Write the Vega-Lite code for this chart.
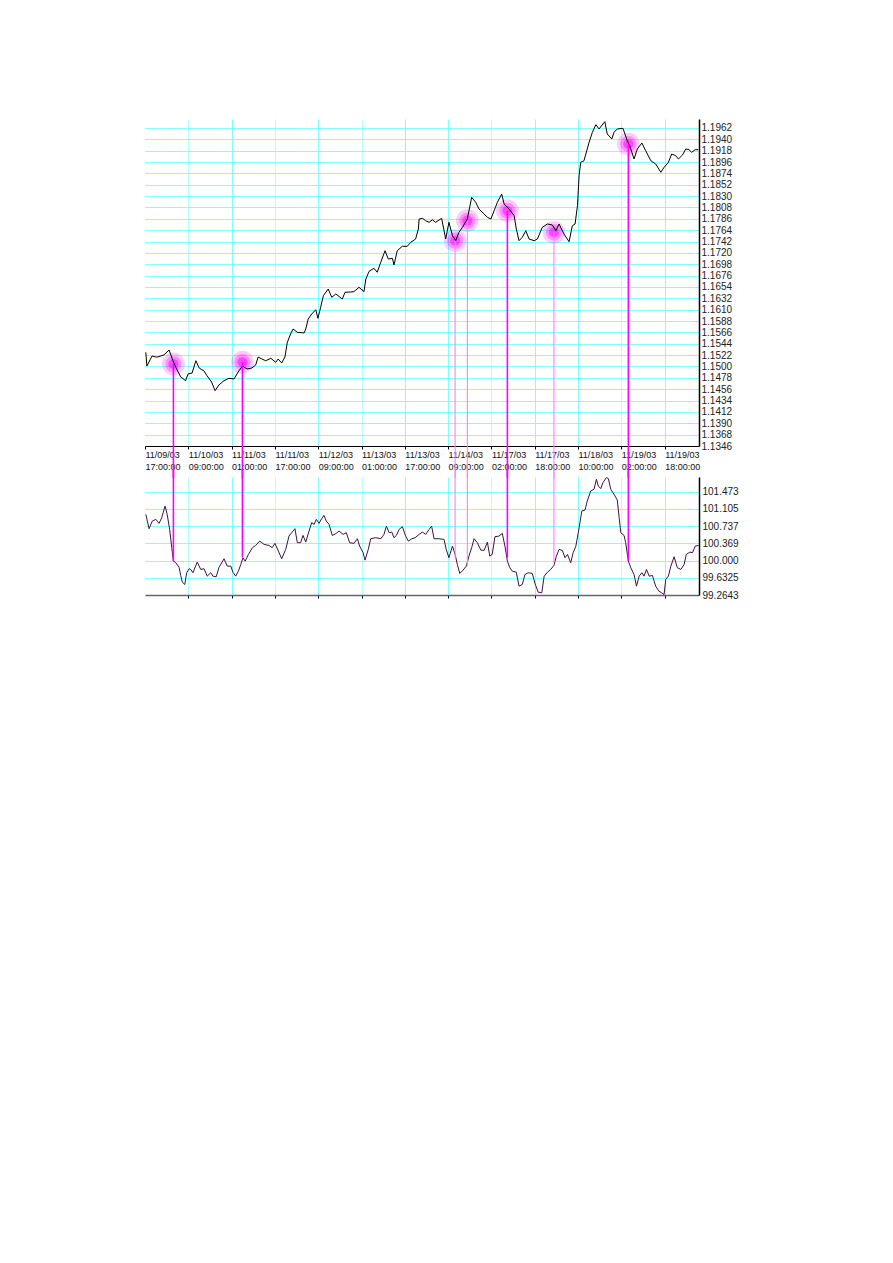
{
  "$schema": "https://vega.github.io/schema/vega-lite/v6.json",
  "background": "white",
  "padding": {"left": 143, "top": 119, "right": 5, "bottom": 5},
  "bounds": "flush",
  "spacing": 31,
  "config": {
    "view": {"stroke": null},
    "axis": {"labelFont": "Liberation Sans", "title": null, "gridColor": "#80ffff", "gridWidth": 1}
  },
  "datasets": {
    "price": [
      {"t":0.3,"v":1.15275},{"t":0.7,"v":1.1501},{"t":2.6,"v":1.15203},{"t":4.4,"v":1.1518},{"t":7.0,"v":1.15223},{"t":8.9,"v":1.1532},{"t":10.1,"v":1.15145},{"t":11.5,"v":1.14971},{"t":13.2,"v":1.14797},{"t":15.0,"v":1.14725},{"t":15.9,"v":1.14855},{"t":17.4,"v":1.14874},{"t":18.8,"v":1.15112},{"t":20.0,"v":1.14971},{"t":21.8,"v":1.14913},{"t":22.9,"v":1.14822},{"t":24.6,"v":1.1470},{"t":25.9,"v":1.14531},{"t":27.3,"v":1.14642},{"t":29.2,"v":1.14725},{"t":31.0,"v":1.14771},{"t":32.9,"v":1.14758},{"t":34.4,"v":1.14893},{"t":36.0,"v":1.1501},{"t":37.7,"v":1.14952},{"t":39.5,"v":1.14971},{"t":40.9,"v":1.15029},{"t":41.8,"v":1.15184},{"t":43.2,"v":1.15145},{"t":44.6,"v":1.15112},{"t":46.5,"v":1.15159},{"t":48.3,"v":1.15081},{"t":49.2,"v":1.15145},{"t":50.5,"v":1.15068},{"t":51.7,"v":1.15184},{"t":52.6,"v":1.15469},{"t":53.8,"v":1.15629},{"t":54.7,"v":1.15726},{"t":56.3,"v":1.15662},{"t":58.8,"v":1.15649},{"t":59.4,"v":1.15726},{"t":60.3,"v":1.1592},{"t":61.6,"v":1.16017},{"t":63.1,"v":1.161},{"t":63.9,"v":1.15933},{"t":64.9,"v":1.16147},{"t":65.9,"v":1.16371},{"t":67.7,"v":1.16501},{"t":69.0,"v":1.1634},{"t":70.5,"v":1.16404},{"t":72.9,"v":1.16307},{"t":73.9,"v":1.16437},{"t":76.0,"v":1.16443},{"t":77.2,"v":1.16449},{"t":79.1,"v":1.16534},{"t":80.9,"v":1.16449},{"t":81.6,"v":1.16695},{"t":82.8,"v":1.16844},{"t":84.6,"v":1.16902},{"t":85.8,"v":1.16825},{"t":87.1,"v":1.17018},{"t":88.7,"v":1.17243},{"t":89.9,"v":1.17082},{"t":91.4,"v":1.17096},{"t":92.0,"v":1.16966},{"t":93.2,"v":1.17243},{"t":95.1,"v":1.17328},{"t":96.9,"v":1.17328},{"t":98.2,"v":1.17406},{"t":100.0,"v":1.1747},{"t":101.0,"v":1.17663},{"t":101.3,"v":1.17857},{"t":102.5,"v":1.17871},{"t":103.7,"v":1.17824},{"t":105.0,"v":1.17793},{"t":106.2,"v":1.17843},{"t":107.4,"v":1.17793},{"t":109.6,"v":1.17871},{"t":111.1,"v":1.1747},{"t":112.3,"v":1.17793},{"t":113.6,"v":1.17534},{"t":114.8,"v":1.17437},{"t":116.0,"v":1.17599},{"t":117.3,"v":1.17696},{"t":119.1,"v":1.17857},{"t":120.7,"v":1.18277},{"t":122.2,"v":1.1818},{"t":123.4,"v":1.18051},{"t":125.3,"v":1.17954},{"t":126.5,"v":1.1789},{"t":127.8,"v":1.17857},{"t":129.0,"v":1.18018},{"t":130.2,"v":1.1818},{"t":131.8,"v":1.18341},{"t":132.7,"v":1.18148},{"t":134.5,"v":1.18051},{"t":136.4,"v":1.17921},{"t":137.2,"v":1.17663},{"t":138.2,"v":1.17437},{"t":139.4,"v":1.17502},{"t":140.7,"v":1.1763},{"t":141.9,"v":1.1747},{"t":143.8,"v":1.17437},{"t":145.0,"v":1.1747},{"t":146.8,"v":1.17696},{"t":148.7,"v":1.1776},{"t":150.5,"v":1.17741},{"t":151.8,"v":1.1763},{"t":153.0,"v":1.1776},{"t":154.8,"v":1.17566},{"t":156.7,"v":1.17417},{"t":157.9,"v":1.17727},{"t":158.9,"v":1.1776},{"t":159.8,"v":1.18115},{"t":160.4,"v":1.18696},{"t":161.0,"v":1.18955},{"t":162.2,"v":1.18986},{"t":164.1,"v":1.19343},{"t":165.3,"v":1.19536},{"t":166.6,"v":1.19684},{"t":167.8,"v":1.196},{"t":168.6,"v":1.19658},{"t":169.9,"v":1.19742},{"t":170.8,"v":1.19503},{"t":172.5,"v":1.19407},{"t":173.3,"v":1.19536},{"t":174.5,"v":1.196},{"t":176.6,"v":1.19614},{"t":178.2,"v":1.19374},{"t":179.1,"v":1.19277},{"t":180.7,"v":1.19019},{"t":181.9,"v":1.19213},{"t":183.6,"v":1.19329},{"t":185.0,"v":1.1918},{"t":186.9,"v":1.18986},{"t":188.7,"v":1.18922},{"t":190.6,"v":1.18762},{"t":191.8,"v":1.18858},{"t":193.4,"v":1.18955},{"t":194.6,"v":1.19116},{"t":196.1,"v":1.19083},{"t":197.1,"v":1.19019},{"t":198.6,"v":1.19097},{"t":199.8,"v":1.19213},{"t":201.0,"v":1.192},{"t":202.0,"v":1.19149},{"t":203.3,"v":1.192},{"t":204.4,"v":1.192}
    ],
    "osc": [
      {"t":0.3,"v":100.988},{"t":1.5,"v":100.681},{"t":2.7,"v":100.844},{"t":4.0,"v":100.881},{"t":5.2,"v":100.795},{"t":6.2,"v":100.917},{"t":7.4,"v":101.165},{"t":8.2,"v":100.988},{"t":9.1,"v":100.667},{"t":9.9,"v":100.275},{"t":10.5,"v":99.988},{"t":11.3,"v":99.96},{"t":12.6,"v":99.853},{"t":13.2,"v":99.682},{"t":13.8,"v":99.538},{"t":14.7,"v":99.489},{"t":15.4,"v":99.74},{"t":16.3,"v":99.825},{"t":16.9,"v":99.81},{"t":17.7,"v":99.74},{"t":19.3,"v":99.967},{"t":20.6,"v":99.81},{"t":21.8,"v":99.825},{"t":23.0,"v":99.667},{"t":24.3,"v":99.74},{"t":25.1,"v":99.667},{"t":26.3,"v":99.654},{"t":27.3,"v":99.847},{"t":29.2,"v":100.039},{"t":30.4,"v":99.881},{"t":31.7,"v":99.881},{"t":32.5,"v":99.752},{"t":33.5,"v":99.667},{"t":34.5,"v":99.774},{"t":35.4,"v":99.917},{"t":36.2,"v":100.061},{"t":37.0,"v":99.988},{"t":38.2,"v":100.131},{"t":39.7,"v":100.275},{"t":40.9,"v":100.324},{"t":42.4,"v":100.416},{"t":44.0,"v":100.345},{"t":45.8,"v":100.324},{"t":47.0,"v":100.275},{"t":48.0,"v":100.367},{"t":49.3,"v":100.202},{"t":50.5,"v":100.039},{"t":52.0,"v":100.238},{"t":53.2,"v":100.523},{"t":54.2,"v":100.596},{"t":55.4,"v":100.681},{"t":56.3,"v":100.382},{"t":57.5,"v":100.382},{"t":58.4,"v":100.538},{"t":59.4,"v":100.395},{"t":60.6,"v":100.63},{"t":61.6,"v":100.81},{"t":62.5,"v":100.774},{"t":63.3,"v":100.881},{"t":64.3,"v":100.795},{"t":65.3,"v":100.896},{"t":66.1,"v":100.966},{"t":67.0,"v":100.844},{"t":68.0,"v":100.774},{"t":69.2,"v":100.538},{"t":70.5,"v":100.575},{"t":71.7,"v":100.63},{"t":73.2,"v":100.56},{"t":74.4,"v":100.596},{"t":75.6,"v":100.382},{"t":77.2,"v":100.367},{"t":78.5,"v":100.467},{"t":79.3,"v":100.309},{"t":80.6,"v":100.168},{"t":81.3,"v":100.009},{"t":82.5,"v":100.238},{"t":83.4,"v":100.467},{"t":85.3,"v":100.489},{"t":87.1,"v":100.467},{"t":88.3,"v":100.56},{"t":89.2,"v":100.737},{"t":90.2,"v":100.596},{"t":91.2,"v":100.609},{"t":92.0,"v":100.489},{"t":92.9,"v":100.538},{"t":93.9,"v":100.667},{"t":95.1,"v":100.724},{"t":96.3,"v":100.523},{"t":97.3,"v":100.416},{"t":98.6,"v":100.467},{"t":99.8,"v":100.489},{"t":101.3,"v":100.56},{"t":102.5,"v":100.609},{"t":103.7,"v":100.56},{"t":105.0,"v":100.667},{"t":105.9,"v":100.737},{"t":106.8,"v":100.467},{"t":108.6,"v":100.467},{"t":110.5,"v":100.452},{"t":111.3,"v":100.238},{"t":112.3,"v":100.061},{"t":113.6,"v":100.309},{"t":114.6,"v":100.131},{"t":115.4,"v":99.917},{"t":116.3,"v":99.725},{"t":117.5,"v":99.795},{"t":118.7,"v":99.881},{"t":119.7,"v":100.095},{"t":120.7,"v":100.275},{"t":121.6,"v":100.467},{"t":122.8,"v":100.382},{"t":124.1,"v":100.223},{"t":125.3,"v":100.217},{"t":126.5,"v":100.395},{"t":127.4,"v":100.095},{"t":128.3,"v":100.131},{"t":129.3,"v":100.51},{"t":130.8,"v":100.523},{"t":132.0,"v":100.581},{"t":133.0,"v":100.309},{"t":133.9,"v":99.988},{"t":134.8,"v":99.847},{"t":135.7,"v":99.774},{"t":137.2,"v":99.752},{"t":138.2,"v":99.453},{"t":139.4,"v":99.489},{"t":140.4,"v":99.703},{"t":141.6,"v":99.74},{"t":143.1,"v":99.725},{"t":144.1,"v":99.51},{"t":145.3,"v":99.324},{"t":146.6,"v":99.311},{"t":147.5,"v":99.667},{"t":148.7,"v":99.752},{"t":149.9,"v":99.81},{"t":151.1,"v":99.896},{"t":152.0,"v":100.095},{"t":153.0,"v":100.238},{"t":154.2,"v":100.217},{"t":155.2,"v":100.061},{"t":156.1,"v":100.131},{"t":157.3,"v":99.954},{"t":158.2,"v":100.168},{"t":159.2,"v":100.309},{"t":160.1,"v":100.596},{"t":161.4,"v":101.058},{"t":162.6,"v":101.08},{"t":163.4,"v":101.272},{"t":164.7,"v":101.487},{"t":165.9,"v":101.523},{"t":166.8,"v":101.737},{"t":167.5,"v":101.594},{"t":168.4,"v":101.538},{"t":169.2,"v":101.666},{"t":170.5,"v":101.773},{"t":171.2,"v":101.752},{"t":172.1,"v":101.523},{"t":173.3,"v":101.416},{"t":174.5,"v":101.294},{"t":175.2,"v":100.917},{"t":175.8,"v":100.596},{"t":177.0,"v":100.538},{"t":177.6,"v":100.382},{"t":178.6,"v":99.988},{"t":179.5,"v":99.847},{"t":180.7,"v":99.703},{"t":181.6,"v":99.453},{"t":182.6,"v":99.667},{"t":183.6,"v":99.74},{"t":184.4,"v":99.667},{"t":185.3,"v":99.81},{"t":186.3,"v":99.667},{"t":187.5,"v":99.682},{"t":188.7,"v":99.453},{"t":189.9,"v":99.346},{"t":190.9,"v":99.311},{"t":191.8,"v":99.275},{"t":192.4,"v":99.596},{"t":193.4,"v":99.667},{"t":194.3,"v":99.881},{"t":195.5,"v":100.082},{"t":196.7,"v":99.847},{"t":198.0,"v":99.81},{"t":199.2,"v":99.917},{"t":200.0,"v":100.131},{"t":201.3,"v":100.18},{"t":202.3,"v":100.168},{"t":203.3,"v":100.309},{"t":204.5,"v":100.324}
    ],
    "signals": [
      {"t":10.5,"price":1.15048,"osc":99.988,"kind":"strong"},
      {"t":36.0,"price":1.15084,"osc":100.067,"kind":"strong"},
      {"t":114.6,"price":1.17437,"osc":100.046,"kind":"light"},
      {"t":119.1,"price":1.17824,"osc":99.881,"kind":"light"},
      {"t":133.9,"price":1.18018,"osc":100.061,"kind":"strong"},
      {"t":151.1,"price":1.17599,"osc":99.966,"kind":"light"},
      {"t":178.6,"price":1.19309,"osc":99.988,"kind":"strong"}
    ]
  },
  "vconcat": [
    {
      "width": 554,
      "height": 327,
      "layer": [
        {
          "data": {"name": "signals"},
          "mark": {"type": "point", "filled": true, "color": "#ff00ff", "opacity": 0.2, "size": 520, "strokeWidth": 0},
          "encoding": {
            "x": {"field": "t", "type": "quantitative", "scale": {"domain": [0, 204.7], "nice": false, "zero": false}},
            "y": {"field": "price", "type": "quantitative", "scale": {"domain": [1.1346, 1.19794], "nice": false, "zero": false}}
          }
        },
        {
          "data": {"name": "signals"},
          "mark": {"type": "point", "filled": true, "color": "#ff00ff", "opacity": 0.3, "size": 260, "strokeWidth": 0},
          "encoding": {
            "x": {"field": "t", "type": "quantitative"},
            "y": {"field": "price", "type": "quantitative"}
          }
        },
        {
          "data": {"name": "signals"},
          "mark": {"type": "point", "filled": true, "color": "#ff00ff", "opacity": 0.5, "size": 100, "strokeWidth": 0},
          "encoding": {
            "x": {"field": "t", "type": "quantitative"},
            "y": {"field": "price", "type": "quantitative"}
          }
        },
        {
          "data": {"name": "price"},
          "mark": {"type": "line", "color": "#000000", "strokeWidth": 1},
          "encoding": {
            "x": {
              "field": "t", "type": "quantitative",
              "axis": {
                "orient": "bottom",
                "values": [0,16,32,48,64,80,96,112,128,144,160,176,192],
                "tickCount": 40,
                "labelExpr": "split(['11/09/03|17:00:00','11/10/03|09:00:00','11/11/03|01:00:00','11/11/03|17:00:00','11/12/03|09:00:00','11/13/03|01:00:00','11/13/03|17:00:00','11/14/03|09:00:00','11/17/03|02:00:00','11/17/03|18:00:00','11/18/03|10:00:00','11/19/03|02:00:00','11/19/03|18:00:00'][round(datum.value/16)], '|')",
                "labelAlign": "left",
                "labelBaseline": "top",
                "labelFontSize": 9,
                "labelColor": "#111111",
                "labelLineHeight": 12,
                "labelPadding": 1,
                "labelOverlap": false,
                "labelFlush": false,
                "domainColor": "#000000",
                "domainWidth": 1,
                "tickColor": "#000000",
                "tickSize": 3,
                "grid": true,
                "gridOpacity": {"condition": {"test": "datum.value == 0", "value": 0}, "value": 1},
                "gridColor": {"condition": {"test": "indexof([16,48,80,128,176], datum.value) >= 0", "value": "#b0ffff"}, "value": "#80ffff"}
              }
            },
            "y": {
              "field": "v", "type": "quantitative",
              "axis": {
                "orient": "right",
                "values": [1.1346,1.1368,1.139,1.1412,1.1434,1.1456,1.1478,1.15,1.1522,1.1544,1.1566,1.1588,1.161,1.1632,1.1654,1.1676,1.1698,1.172,1.1742,1.1764,1.1786,1.1808,1.183,1.1852,1.1874,1.1896,1.1918,1.194,1.1962],
                "tickCount": 100,
                "format": ".4f",
                "labelFontSize": 10,
                "labelColor": "#222222",
                "labelPadding": 2,
                "tickSize": 0,
                "domainColor": "#000000",
                "domainWidth": 1.5,
                "grid": true,
                "labelOverlap": false,
                "labelFlush": false
              }
            }
          }
        },
        {
          "data": {"name": "signals"},
          "mark": {"type": "rule"},
          "encoding": {
            "x": {"field": "t", "type": "quantitative"},
            "y": {"field": "price", "type": "quantitative"},
            "y2": {"datum": 1.1284},
            "color": {"field": "kind", "type": "nominal", "scale": {"domain": ["strong", "light"], "range": ["#ff00ff", "#ff80ff"]}, "legend": null},
            "strokeWidth": {"field": "kind", "type": "nominal", "scale": {"domain": ["strong", "light"], "range": [1.6, 1.1]}, "legend": null}
          }
        }
      ]
    },
    {
      "width": 554,
      "height": 118,
      "layer": [
        {
          "data": {"name": "osc"},
          "mark": {"type": "line", "color": "#3a1440", "strokeWidth": 1},
          "encoding": {
            "x": {
              "field": "t", "type": "quantitative",
              "scale": {"domain": [0, 204.7], "nice": false, "zero": false},
              "axis": {
                "orient": "bottom",
                "values": [16,32,48,64,80,96,112,128,144,160,176,192],
                "tickCount": 40,
                "labels": false,
                "domainColor": "#666666",
                "domainWidth": 1.5,
                "tickColor": "#000000",
                "tickSize": 3,
                "grid": true,
                "gridColor": {"condition": {"test": "indexof([16,48,80,128,176], datum.value) >= 0", "value": "#b0ffff"}, "value": "#80ffff"}
              }
            },
            "y": {
              "field": "v", "type": "quantitative",
              "scale": {"domain": [99.2643, 101.786], "nice": false, "zero": false},
              "axis": {
                "orient": "right",
                "values": [99.2643, 99.6325, 100.0007, 100.369, 100.7372, 101.1054, 101.4736],
                "tickCount": 40,
                "labelExpr": "datum.value >= 100 ? format(floor(datum.value*1000)/1000, '.3f') : format(datum.value, '.4f')",
                "labelFontSize": 10,
                "labelColor": "#222222",
                "labelPadding": 3,
                "tickSize": 0,
                "domainColor": "#000000",
                "domainWidth": 1.5,
                "grid": true,
                "gridOpacity": {"condition": {"test": "datum.value < 99.3", "value": 0}, "value": 1},
                "labelOverlap": false,
                "labelFlush": false
              }
            }
          }
        },
        {
          "data": {"name": "signals"},
          "mark": {"type": "rule"},
          "encoding": {
            "x": {"field": "t", "type": "quantitative"},
            "y": {"field": "osc", "type": "quantitative"},
            "y2": {"datum": 101.95},
            "color": {"field": "kind", "type": "nominal", "scale": {"domain": ["strong", "light"], "range": ["#ff00ff", "#ff80ff"]}, "legend": null},
            "strokeWidth": {"field": "kind", "type": "nominal", "scale": {"domain": ["strong", "light"], "range": [1.6, 1.1]}, "legend": null}
          }
        }
      ]
    }
  ]
}
